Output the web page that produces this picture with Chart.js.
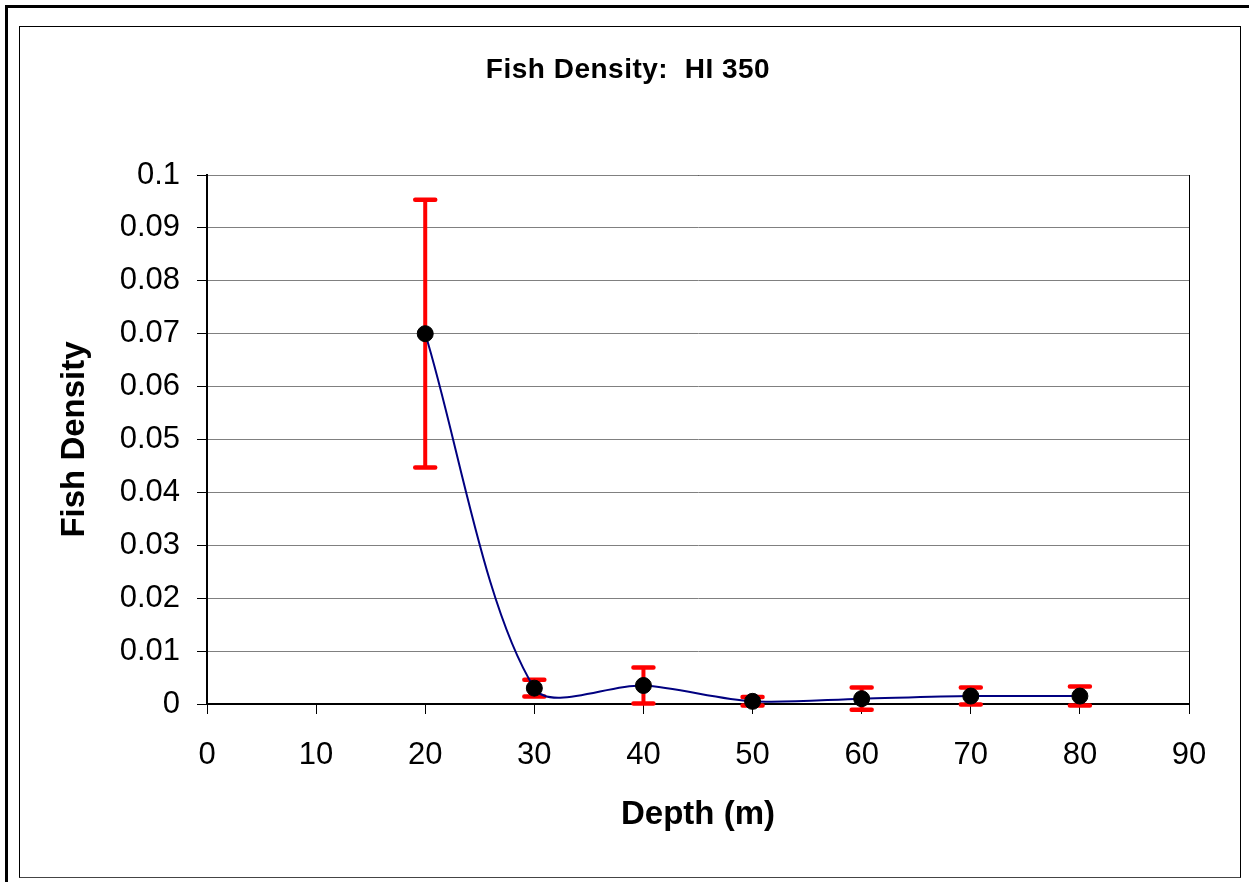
<!DOCTYPE html>
<html>
<head>
<meta charset="utf-8">
<title>Fish Density: HI 350</title>
<script src="https://cdn.jsdelivr.net/npm/chart.js@4/dist/chart.umd.min.js"></script>
<style>
  html, body { margin: 0; padding: 0; background: #fff; overflow: hidden; }
  .outer { position: absolute; left: 5px; top: 5px; width: 1300px; height: 900px;
           border-left: 3px solid #000; border-top: 3px solid #000; }
  .inner { position: absolute; left: 19px; top: 26px; width: 1220px; height: 850px;
           border: 1px solid #000; border-bottom-color: #444; }
  .wrap { position: absolute; left: 0; top: 0; width: 1249px; height: 882px; }
</style>
</head>
<body>
<div class="outer"></div>
<div class="inner"></div>
<div class="wrap"><canvas id="fishChart"></canvas></div>
<script>
// values
const depths = [20, 30, 40, 50, 60, 70, 80];
const density = [0.07, 0.003, 0.0035, 0.0005, 0.001, 0.0015, 0.0015];
const densityErr = [0.0253, 0.0016, 0.0034, 0.0008, 0.0021, 0.0016, 0.0018];

const xTickLabels = ['0', '10', '20', '30', '40', '50', '60', '70', '80', '90'];
const yTickLabels = ['0', '0.01', '0.02', '0.03', '0.04', '0.05', '0.06', '0.07', '0.08', '0.09', '0.1'];

const chartTitle = 'Fish Density:  HI 350';

const FONT = '"Liberation Sans", Arial, Helvetica, sans-serif';
Chart.defaults.font.family = FONT;
Chart.defaults.color = '#000';

// red error bars, drawn under the line and the markers
const errorBars = {
  id: 'errorBars',
  beforeDatasetsDraw(chart) {
    const { ctx, scales: { x, y } } = chart;
    ctx.save();
    ctx.strokeStyle = '#ff0000';
    depths.forEach((d, i) => {
      const px = x.getPixelForValue(d);
      const top = y.getPixelForValue(density[i] + densityErr[i]);
      const bot = y.getPixelForValue(density[i] - densityErr[i]);
      ctx.lineWidth = 4;
      ctx.lineCap = 'butt';
      ctx.beginPath();
      ctx.moveTo(px, top);
      ctx.lineTo(px, bot);
      ctx.stroke();
      ctx.lineWidth = 4.5;
      ctx.lineCap = 'round';
      ctx.beginPath();
      ctx.moveTo(px - 10, top);
      ctx.lineTo(px + 10, top);
      ctx.moveTo(px - 10, bot);
      ctx.lineTo(px + 10, bot);
      ctx.stroke();
    });
    ctx.restore();
  },
};

// black frame round the plot area, and the title (sits a bit right of the plot centre)
const plotFrame = {
  id: 'plotFrame',
  beforeDraw(chart) {
    const { ctx, chartArea: a } = chart;
    ctx.save();
    ctx.strokeStyle = '#000';
    ctx.lineWidth = 1;
    ctx.strokeRect(a.left + 0.5, a.top + 0.5, a.right - a.left, a.bottom - a.top);

    ctx.fillStyle = '#000';
    ctx.font = `bold 28px ${FONT}`;
    if ('letterSpacing' in ctx) ctx.letterSpacing = '0.5px';
    ctx.textAlign = 'center';
    ctx.textBaseline = 'alphabetic';
    ctx.fillText(chartTitle, 628, 78);
    ctx.restore();
  },
};

const ctx = document.getElementById('fishChart').getContext('2d');

new Chart(ctx, {
  type: 'line',
  data: {
    datasets: [
      {
        label: 'Fish Density',
        data: depths.map((d, i) => ({ x: d, y: density[i] })),
        borderColor: '#000080',
        borderWidth: 2,
        tension: 0.3,
        fill: false,
        clip: false,
        pointRadius: 8,
        pointBackgroundColor: '#000',
        pointBorderColor: '#000',
        pointBorderWidth: 1,
      },
    ],
  },
  options: {
    responsive: true,
    maintainAspectRatio: false,
    animation: false,
    elements: { line: { capBezierPoints: false } },
    layout: { padding: { left: 0, right: 60, top: 175, bottom: 0 } },
    plugins: {
      legend: { display: false },
      tooltip: { enabled: false },
      title: { display: false },
    },
    scales: {
      x: {
        type: 'linear',
        min: 0,
        max: 90,
        afterFit: (scale) => { scale.height = 178; },
        ticks: {
          stepSize: 10,
          padding: 23,
          font: { size: 31 },
          color: '#000',
          callback: (v) => xTickLabels[Math.round(v / 10)],
        },
        grid: { drawOnChartArea: false, drawTicks: true, tickLength: 10, tickColor: '#000' },
        border: { color: '#000', width: 2 },
        title: {
          display: true,
          text: 'Depth (m)',
          color: '#000',
          font: { size: 33, weight: 'bold', lineHeight: 1.2 },
          padding: { top: 0, bottom: 47 },
        },
      },
      y: {
        min: 0,
        max: 0.1,
        afterFit: (scale) => { scale.width = 207; },
        ticks: {
          stepSize: 0.01,
          padding: 17,
          font: { size: 31 },
          color: '#000',
          callback: (v) => yTickLabels[Math.round(v / 0.01)],
        },
        grid: { color: '#808080', lineWidth: 1, drawTicks: true, tickLength: 10, tickColor: '#000' },
        border: { color: '#000', width: 2 },
        title: {
          display: true,
          text: 'Fish Density',
          color: '#000',
          font: { size: 33, weight: 'bold', lineHeight: 1.2 },
          padding: { top: 55, bottom: 0 },
        },
      },
    },
  },
  plugins: [errorBars, plotFrame],
});
</script>
</body>
</html>
